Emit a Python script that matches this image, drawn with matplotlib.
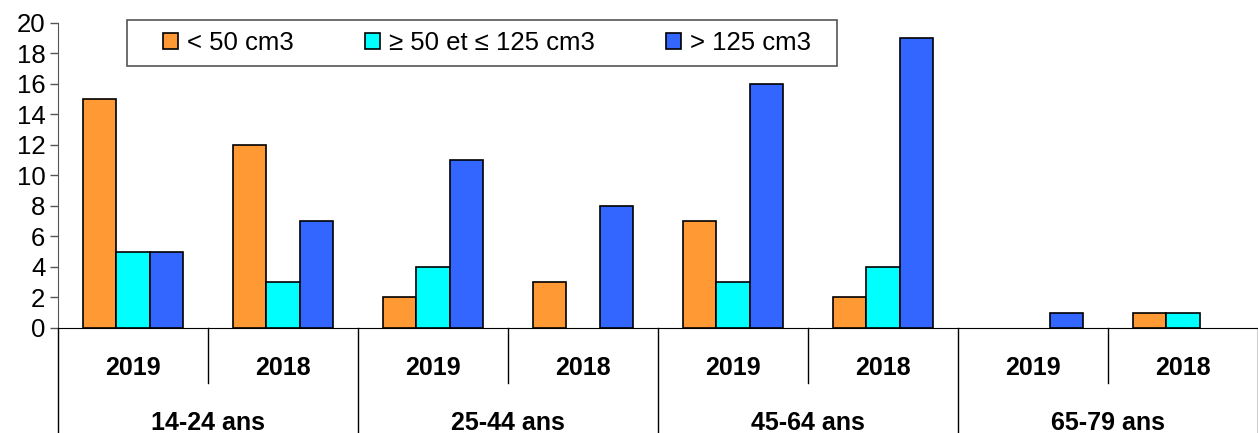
import matplotlib.pyplot as plt
import matplotlib.transforms as mtransforms
from matplotlib.patches import Patch, Rectangle
import numpy as np

plt.rcParams['font.family'] = ['Liberation Sans', 'DejaVu Sans']

# data
ages = ["14-24 ans", "25-44 ans", "45-64 ans", "65-79 ans"]
years = ["2019", "2018"]
series_names = ["< 50 cm3", "\u2265 50 et \u2264 125 cm3", "> 125 cm3"]
small = [15, 12, 2, 3, 7, 2, 0, 1]
medium = [5, 3, 4, 0, 3, 4, 0, 1]
large = [5, 7, 11, 8, 16, 19, 1, 0]
colors = ["#FF9933", "#00FFFF", "#3366FF"]

fig = plt.figure(figsize=(12.58, 4.33), dpi=100)
ax = fig.add_axes([0.0461, 0.2425, 0.9539, 0.7044])

n = len(small)
x = np.arange(n) + 0.5
w = 0.222
for i, (vals, c) in enumerate(zip([small, medium, large], colors)):
    v = np.array(vals, dtype=float)
    v[v == 0] = np.nan  # no empty bars drawn
    ax.bar(x + (i - 1) * w, v, width=w, color=c, edgecolor="black",
           linewidth=1.2, zorder=3)

ax.set_xlim(0, n)
ax.set_ylim(0, 20)
ax.set_yticks(range(0, 21, 2))
ax.tick_params(axis="y", labelsize=18.5, length=6, width=1, color="#555555", pad=3)
ax.set_xticks([])
for s in ["top", "right"]:
    ax.spines[s].set_visible(False)
ax.spines["left"].set_color("#555555")
ax.spines["bottom"].set_color("black")

# multi-level category axis
trans = mtransforms.blended_transform_factory(ax.transData, ax.transAxes)
for k in range(n):
    ax.text(x[k], -0.13, years[k % 2], transform=trans, ha="center", va="center",
            fontsize=18, fontweight="bold")
for j, a in enumerate(ages):
    ax.text(2 * j + 1, -0.31, a, transform=trans, ha="center", va="center",
            fontsize=18, fontweight="bold")
for b in range(n + 1):
    if b % 2 == 0:
        ax.plot([b, b], [0, -0.36], transform=trans, color="black", lw=1, clip_on=False)
    else:
        ax.plot([b, b], [0, -0.18], transform=trans, color="black", lw=1, clip_on=False)

# legend frame
fig.patches.append(Rectangle((127 / 1258, 1 - 66 / 433), 710 / 1258, 46 / 433,
                             transform=fig.transFigure, facecolor="white",
                             edgecolor="#555555", linewidth=1.2, zorder=5))
handles = [Patch(facecolor=c, edgecolor="black", linewidth=1.2) for c in colors]
leg = fig.legend(handles, series_names, ncol=3, loc="center left",
                 bbox_to_anchor=(163 / 1258, 1 - 43 / 433),
                 fontsize=18.5, frameon=False, borderpad=0, borderaxespad=0,
                 handlelength=0.6, handleheight=0.6, handletextpad=0.35,
                 columnspacing=2.75)
leg.set_zorder(6)

fig.savefig("out.png", dpi=100)
